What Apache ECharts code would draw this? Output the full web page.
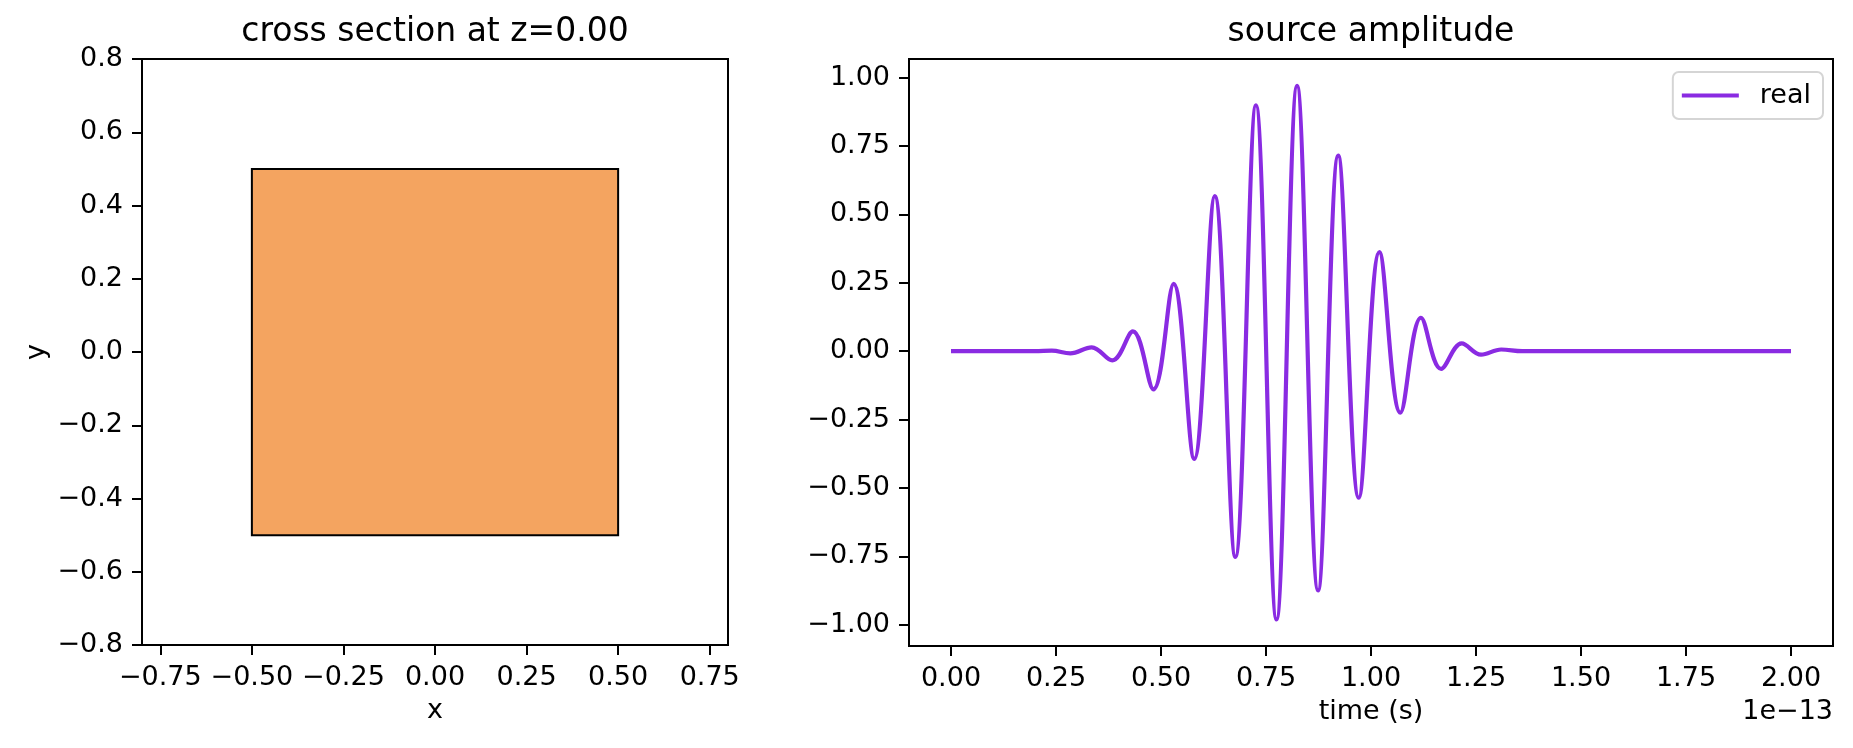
<!DOCTYPE html>
<html>
<head>
<meta charset="utf-8">
<script src="https://cdn.jsdelivr.net/npm/echarts@6/dist/echarts.min.js"></script>
<style>html,body{margin:0;padding:0;background:#fff}#main{width:1853px;height:748px}</style>
</head>
<body>
<div id="main"></div>
<script>
// left panel: square cross section at z=0
const crossX = [-0.5, 0.5, 0.5, -0.5];
const crossY = [-0.5, -0.5, 0.5, 0.5];
const crossTicksX = [-0.75, -0.5, -0.25, 0, 0.25, 0.5, 0.75];
const crossTicksY = [-0.8, -0.6, -0.4, -0.2, 0, 0.2, 0.4, 0.6, 0.8];

// right panel: source amplitude (time in units of 1e-13 s), peaks and troughs
const timeE13 = [0, 0.05, 0.10, 0.15, 0.20, 0.24, 0.284, 0.335, 0.384, 0.433,
  0.482, 0.530, 0.579, 0.628, 0.677, 0.726, 0.775, 0.824, 0.874, 0.922,
  0.971, 1.020, 1.070, 1.119, 1.167, 1.216, 1.262, 1.310, 1.36, 1.40,
  1.50, 1.60, 1.70, 1.80, 1.90, 2.00];
const ampReal = [0, 0, 0, 0, 0, 0.002, -0.008, 0.014, -0.034, 0.072,
  -0.140, 0.246, -0.394, 0.567, -0.752, 0.899, -0.981, 0.970, -0.875, 0.715,
  -0.536, 0.362, -0.225, 0.122, -0.065, 0.028, -0.013, 0.006, 0, 0,
  0, 0, 0, 0, 0, 0];
const ampTicksX = [0, 0.25, 0.5, 0.75, 1, 1.25, 1.5, 1.75, 2];
const ampTicksY = [-1, -0.75, -0.5, -0.25, 0, 0.25, 0.5, 0.75, 1];

const FONT = 'DejaVu Sans';
const fmt = d => v => (v < 0 ? '\u2212' : '') + Math.abs(v).toFixed(d);

function axis(extra, ticks, digits, pos){
  return Object.assign({
    type: 'value', position: pos,
    axisLine: { show: true, onZero: false, lineStyle: { color: '#000', width: 2 } },
    axisTick: { show: true, length: 10, customValues: ticks, lineStyle: { color: '#000', width: 2 } },
    axisLabel: { customValues: ticks, formatter: fmt(digits), fontFamily: FONT, fontSize: 27, color: '#000', margin: 19 },
    splitLine: { show: false },
    nameTextStyle: { fontFamily: FONT, fontSize: 27, color: '#000' }
  }, extra);
}

const chart = echarts.init(document.getElementById('main'));
chart.setOption({
  animation: false,
  backgroundColor: '#fff',
  grid: [
    { left: 142, top: 59, width: 586, height: 586, show: true, borderColor: '#000', borderWidth: 2 },
    { left: 909, top: 59, width: 924, height: 587, show: true, borderColor: '#000', borderWidth: 2 }
  ],
  xAxis: [
    axis({ gridIndex: 0, min: -0.8, max: 0.8, name: 'x', nameLocation: 'middle', nameGap: 52 }, crossTicksX, 2, 'bottom'),
    axis({ gridIndex: 1, min: -0.1, max: 2.1, name: 'time (s)', nameLocation: 'middle', nameGap: 52 }, ampTicksX, 2, 'bottom')
  ],
  yAxis: [
    axis({ gridIndex: 0, min: -0.8, max: 0.8, name: 'y', nameLocation: 'middle', nameGap: 92 }, crossTicksY, 1, 'left'),
    axis({ gridIndex: 1, min: -1.078, max: 1.068 }, ampTicksY, 2, 'left')
  ],
  legend: {
    data: ['real'], right: 30, top: 72, padding: [10, 12, 10, 9],
    borderColor: '#d5d5d5', borderWidth: 2, borderRadius: 6,
    icon: 'rect', itemWidth: 57, itemHeight: 4,
    textStyle: { fontFamily: FONT, fontSize: 27, color: '#000', padding: [0, 0, 0, 16] }
  },
  graphic: [
    { type: 'text', x: 435, y: 32, style: { text: 'cross section at z=0.00', font: '33px "DejaVu Sans"', fill: '#000', textAlign: 'center', textVerticalAlign: 'middle' } },
    { type: 'text', x: 1371, y: 32, style: { text: 'source amplitude', font: '33px "DejaVu Sans"', fill: '#000', textAlign: 'center', textVerticalAlign: 'middle' } },
    { type: 'text', x: 1833, y: 712, style: { text: '1e\u221213', font: '27px "DejaVu Sans"', fill: '#000', textAlign: 'right', textVerticalAlign: 'middle' } }
  ],
  series: [
    {
      type: 'custom', xAxisIndex: 0, yAxisIndex: 0, data: [[0, 0]],
      renderItem: (params, api) => ({
        type: 'polygon',
        shape: { points: crossX.map((x, i) => api.coord([x, crossY[i]])) },
        style: { fill: '#f4a460', stroke: '#000', lineWidth: 2 }
      })
    },
    {
      name: 'real', type: 'line', xAxisIndex: 1, yAxisIndex: 1,
      data: timeE13.map((t, i) => [t, ampReal[i]]),
      smooth: 0.38, symbol: 'none', color: '#8a2be2',
      lineStyle: { color: '#8a2be2', width: 4.2 }
    }
  ]
});
</script>
</body>
</html>
